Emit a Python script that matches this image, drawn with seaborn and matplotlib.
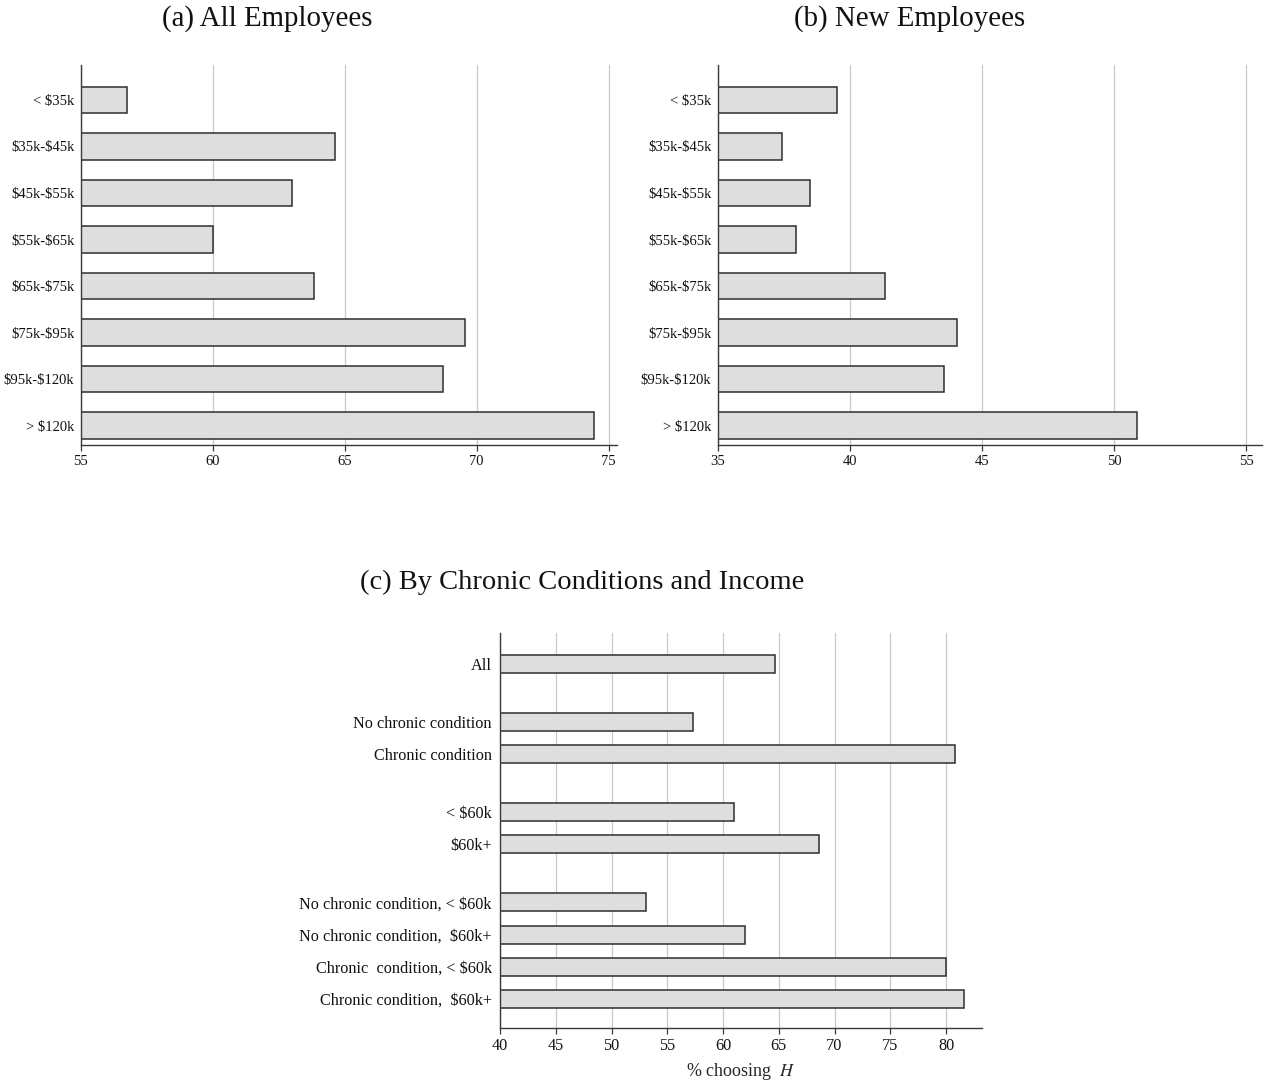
import numpy as np
import pandas as pd
import matplotlib
matplotlib.use("Agg")
import matplotlib.pyplot as plt
import seaborn as sns

# Income brackets used in panels (a) and (b)
income_brackets = ["< $35k", "$35k-$45k", "$45k-$55k", "$55k-$65k",
                   "$65k-$75k", "$75k-$95k", "$95k-$120k", "> $120k"]
all_employees = [56.74, 64.64, 63.02, 60.02, 63.85, 69.55, 68.71, 74.44]
new_employees = [39.50, 37.44, 38.50, 37.97, 41.31, 44.06, 43.57, 50.85]

# Panel (c): groups of rows, separated by a small gap
chronic_groups = [
    ["All"],
    ["No chronic condition", "Chronic condition"],
    ["< $60k", "$60k+"],
    ["No chronic condition, < $60k", "No chronic condition,  $60k+",
     "Chronic  condition, < $60k", "Chronic condition,  $60k+"],
]
chronic_values = [64.69, 57.28, 80.84, 60.96, 68.64, 53.09, 62.00, 80.00, 81.59]

sns.set_style("white")
plt.rcParams["font.family"] = ["Liberation Serif", "DejaVu Serif"]
plt.rcParams["mathtext.fontset"] = "stix"
plt.rcParams["axes.unicode_minus"] = False
plt.rcParams["text.color"] = "#111111"

BAR_FILL = "#dedede"
BAR_EDGE = "#2e2e2e"
GRID = "#c8c8c8"
SPINE = "#3a3a3a"


def plain(text):
    # keep dollar signs literal instead of starting math mode
    return text.replace("$", r"\$")


fig = plt.figure(figsize=(12.72, 10.86), dpi=100)


def style_axis(ax, fs, ypad):
    ax.set_axisbelow(True)
    ax.xaxis.grid(True, color=GRID, linewidth=0.9)
    ax.yaxis.grid(False)
    for side in ("top", "right"):
        ax.spines[side].set_visible(False)
    for side in ("left", "bottom"):
        ax.spines[side].set_color(SPINE)
        ax.spines[side].set_linewidth(1.0)
    ax.tick_params(axis="y", length=0, pad=ypad, labelsize=fs, colors="#111111")
    ax.tick_params(axis="x", length=4, width=0.9, color=SPINE, pad=3,
                   labelsize=fs, labelcolor="#111111", bottom=True)
    ax.set_xlabel("")
    ax.set_ylabel("")


def income_panel(rect, values, xlim, ticks, title, title_x):
    ax = fig.add_axes(rect)
    df = pd.DataFrame({"bracket": income_brackets, "pct": values})
    sns.barplot(data=df, x="pct", y="bracket", orient="h", color=BAR_FILL,
                saturation=1, edgecolor=BAR_EDGE, linewidth=1.1, width=0.57,
                ax=ax)
    ax.set_yticks(range(len(income_brackets)))
    ax.set_yticklabels([plain(b) for b in income_brackets])
    ax.set_xlim(*xlim)
    ax.set_xticks(ticks)
    ax.set_ylim(7.415, -0.75)
    style_axis(ax, 10.5, 4.5)
    fig.text(title_x, 0.983, title, ha="center", va="center", fontsize=20.8)
    return ax


income_panel([0.0634, 0.5902, 0.4214, 0.3499], all_employees, (55, 75.3),
             [55, 60, 65, 70, 75], "(a) All Employees", 0.210)
income_panel([0.5642, 0.5902, 0.4282, 0.3499], new_employees, (35, 55.6),
             [35, 40, 45, 50, 55], "(b) New Employees", 0.715)

# Row positions for panel (c) with a gap between groups
positions, labels = [], []
pos = 0.0
for group in chronic_groups:
    for lab in group:
        positions.append(round(pos, 2))
        labels.append(lab)
        pos += 1.0
    pos += 0.8

axc = fig.add_axes([0.3931, 0.0531, 0.3787, 0.3638])
dfc = pd.DataFrame({"row": positions, "pct": chronic_values})
sns.barplot(data=dfc, x="pct", y="row", orient="h", native_scale=True,
            color=BAR_FILL, saturation=1, edgecolor=BAR_EDGE, linewidth=1.1,
            width=0.56, ax=axc)
axc.set_xlim(40, 83.2)
axc.set_xticks([40, 45, 50, 55, 60, 65, 70, 75, 80])
axc.set_yticks(positions)
axc.set_yticklabels([plain(l) for l in labels])
axc.set_ylim(11.31, -0.96)
style_axis(axc, 11.7, 6)
axc.set_xlabel("% choosing  $H$", fontsize=13, labelpad=5)
fig.text(0.4575, 0.464, "(c) By Chronic Conditions and Income",
         ha="center", va="center", fontsize=20.5)

fig.savefig("out.png", dpi=100, facecolor="white")
